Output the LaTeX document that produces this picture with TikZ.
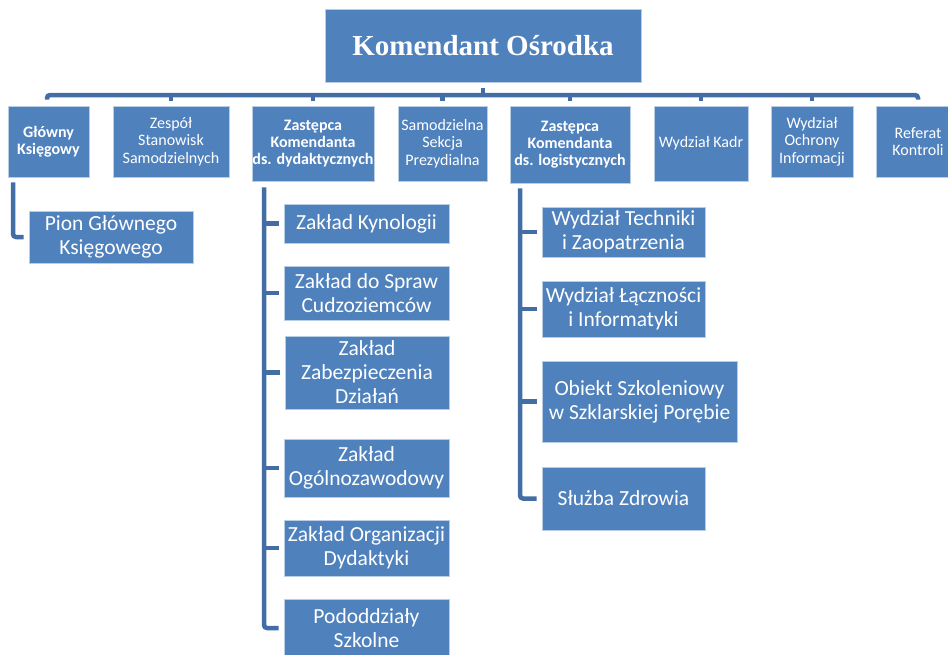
\documentclass[tikz,border=0pt]{standalone}
\usepackage{fontspec}
\setmainfont{Carlito}
\newfontfamily\serifb{Liberation Serif}
\definecolor{boxblue}{RGB}{79,129,189}
\definecolor{linkblue}{RGB}{66,110,165}
\definecolor{edgeblue}{RGB}{185,205,229}
\newcommand\obox[7]{\node[#1, minimum width={(#5-#3)*1pt}, minimum height={(#6-#4)*1pt}] (#2) at ({(#3+#5)/2},{-(#4+#6)/2}) {#7};}
\begin{document}
\begin{tikzpicture}[x=1pt,y=1pt,
 box/.style={fill=boxblue, draw=edgeblue, line width=0.8pt, text=white, align=center, inner sep=0pt},
 lone/.style={box, font=\fontsize{16}{17.5}\selectfont},
 lonebold/.style={box, font=\fontsize{16}{17}\selectfont\bfseries},
 ltwo/.style={box, font=\fontsize{21.5}{24}\selectfont},
 topbox/.style={box, font=\fontsize{29}{34}\selectfont\serifb\bfseries},
 conn/.style={draw=linkblue, line width=4.5pt, rounded corners=3pt}]
\useasboundingbox (0,0) rectangle (948,-654);
\clip (0,0) rectangle (948,-654);
\obox{topbox}{ko}{325}{9}{641}{82}{Komendant Ośrodka}
\obox{lonebold}{gk}{8}{106}{89}{177}{Główny\\Księgowy}
\obox{lone}{zs}{113}{106}{229}{177}{Zespół\\Stanowisk\\Samodzielnych}
\obox{lonebold}{zd}{252}{106}{374}{181}{Zastępca\\Komendanta\\ds. dydaktycznych}
\obox{lone}{ss}{398}{106}{487}{181}{Samodzielna\\Sekcja\\Prezydialna}
\obox{lonebold}{zl}{510}{106}{630}{183}{Zastępca\\Komendanta\\ds. logistycznych}
\obox{lone}{wk}{654}{106}{748}{181}{Wydział Kadr}
\obox{lone}{wo}{771}{106}{853}{177}{Wydział\\Ochrony\\Informacji}
\obox{lone}{rk}{876}{106}{960}{177}{Referat\\Kontroli}
\obox{ltwo}{pg}{29}{211}{193}{263}{Pion Głównego\\Księgowego}
\obox{ltwo}{d1}{284}{204}{449}{243}{Zakład Kynologii}
\obox{ltwo}{d2}{284}{266}{449}{320}{Zakład do Spraw\\Cudzoziemców}
\obox{ltwo}{d3}{285}{336}{449}{409}{Zakład\\Zabezpieczenia\\Działań}
\obox{ltwo}{d4}{284}{439}{449}{497}{Zakład\\Ogólnozawodowy}
\obox{ltwo}{d5}{284}{520}{449}{576}{Zakład Organizacji\\Dydaktyki}
\obox{ltwo}{d6}{284}{599}{449}{657}{Pododdziały\\Szkolne}
\obox{ltwo}{l1}{542}{207}{705}{257}{Wydział Techniki\\i Zaopatrzenia}
\obox{ltwo}{l2}{542}{281}{705}{337}{Wydział Łączności\\i Informatyki}
\obox{ltwo}{l3}{542}{361}{737}{442}{Obiekt Szkoleniowy\\w Szklarskiej Porębie}
\obox{ltwo}{l4}{542}{467}{705}{530}{Służba Zdrowia}
% bus
\coordinate (bus) at (0,-95);
\draw[conn] ([shift={(-1.5,6)}]gk.north) |- (rk.north |- bus) -- ([yshift=6]rk.north);
\draw[conn] ([yshift=-6]ko.south) -- (ko.south |- bus);
\foreach \n in {zs,zd,ss,zl,wk,wo} \draw[conn] ([yshift=5]\n.north) -- (\n.north |- bus);
% children of Glowny Ksiegowy
\draw[conn] ([shift={(-35.5,-5)}]gk.south) |- ([xshift=-5]pg.west);
% children of dydaktycznych
\coordinate (dtop) at ([shift={(-49,-6)}]zd.south);
\draw[conn] (dtop) |- ([xshift=-5]d6.west);
\foreach \n in {d1,d2,d3,d4,d5} \draw[conn] (dtop |- \n.west) -- ([xshift=-5]\n.west);
% children of logistycznych
\coordinate (ltop) at ([shift={(-50,-5)}]zl.south);
\draw[conn] (ltop) |- ([xshift=-5]l4.west);
\foreach \n in {l1,l2,l3} \draw[conn] (ltop |- \n.west) -- ([xshift=-5]\n.west);
\end{tikzpicture}
\end{document}
